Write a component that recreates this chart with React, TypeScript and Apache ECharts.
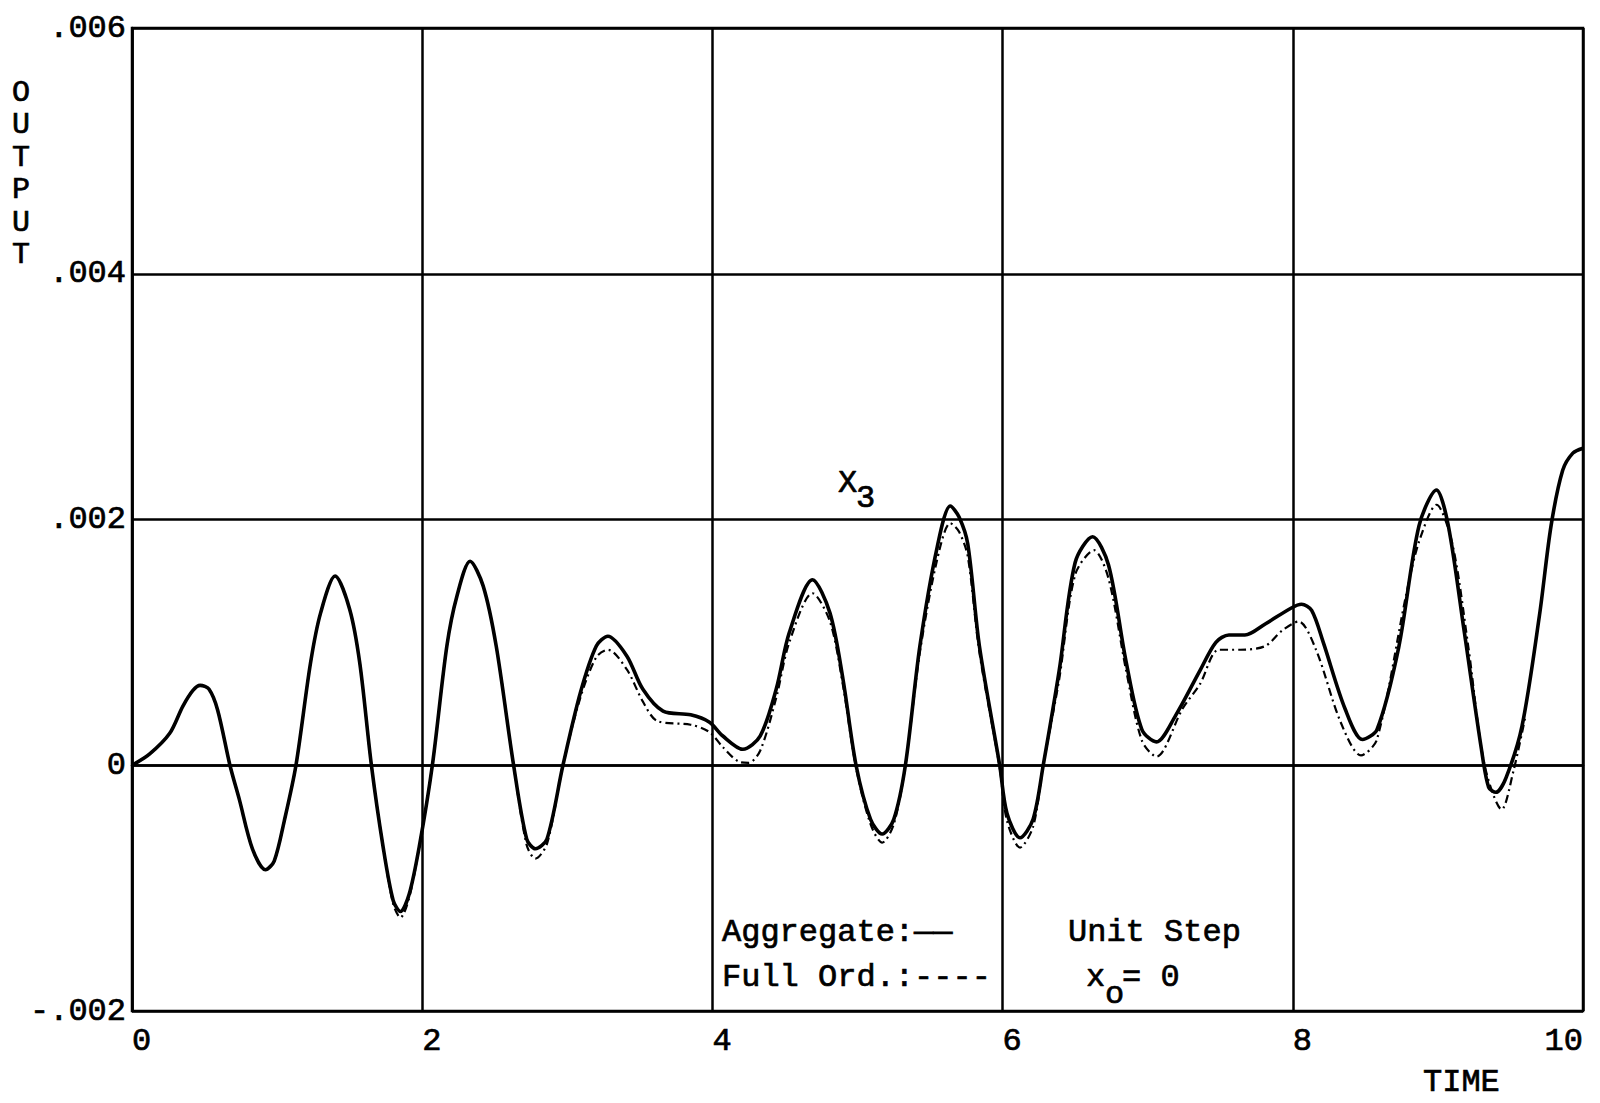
import React, { useEffect, useRef } from "react";
import * as echarts from "echarts";

// Time axis ticks and output tick labels (output in thousandths)
const xTickValues = [0, 2, 4, 6, 8, 10];
const yTickValues = [-2, 0, 2, 4, 6];
const yTickLabels = ["-.002", "0", ".002", ".004", ".006"];
const yAxisTitleLetters = ["O", "U", "T", "P", "U", "T"];

// Aggregate model response (solid)
const aggregateTime = [
  0, 0.12, 0.26, 0.35, 0.42, 0.47, 0.53, 0.59, 0.675, 0.74, 0.83, 0.92, 0.98, 1.05, 1.13,
  1.23, 1.3, 1.4, 1.5, 1.57, 1.65, 1.73, 1.8, 1.85, 1.91, 1.98, 2.07, 2.17, 2.24, 2.33,
  2.42, 2.51, 2.63, 2.72, 2.78, 2.86, 2.97, 3.09, 3.2, 3.28, 3.41, 3.52, 3.66, 3.85,
  3.98, 4.07, 4.21, 4.33, 4.44, 4.53, 4.69, 4.81, 4.9, 4.99, 5.09, 5.17, 5.25, 5.33,
  5.43, 5.55, 5.64, 5.7, 5.76, 5.84, 5.98, 6.03, 6.12, 6.21, 6.28, 6.39, 6.5, 6.62,
  6.73, 6.85, 6.96, 7.06, 7.19, 7.36, 7.47, 7.56, 7.67, 7.81, 7.99, 8.06, 8.13, 8.21,
  8.36, 8.48, 8.58, 8.73, 8.87, 8.99, 9.07, 9.18, 9.3, 9.35, 9.4, 9.47, 9.58, 9.7,
  9.78, 9.86, 9.93, 10.0,
];
const aggregateOutput = [
  0, 0.09, 0.26, 0.48, 0.61, 0.65, 0.62, 0.45, 0, -0.28, -0.68, -0.85, -0.78, -0.45, 0,
  0.83, 1.24, 1.54, 1.27, 0.83, 0, -0.66, -1.1, -1.19, -1.05, -0.66, 0, 0.97, 1.38, 1.66,
  1.46, 0.97, 0, -0.6, -0.68, -0.6, 0, 0.59, 0.97, 1.05, 0.89, 0.62, 0.44, 0.41,
  0.35, 0.24, 0.13, 0.24, 0.62, 1.08, 1.51, 1.24, 0.7, 0, -0.44, -0.56, -0.44, 0,
  0.97, 1.78, 2.11, 2.02, 1.8, 0.97, 0, -0.39, -0.59, -0.44, 0, 0.77, 1.65, 1.86,
  1.63, 0.85, 0.29, 0.19, 0.4, 0.77, 1.0, 1.06, 1.06, 1.15, 1.28, 1.31, 1.26, 1.0,
  0.46, 0.21, 0.29, 0.96, 1.95, 2.24, 1.96, 1.1, 0.13, -0.18, -0.22, -0.1, 0.32, 1.22,
  1.95, 2.4, 2.54, 2.58,
];

// Full order model response (dashed)
const fullOrderTime = [
  0, 0.12, 0.26, 0.35, 0.42, 0.47, 0.53, 0.59, 0.675, 0.74, 0.83, 0.92, 0.98, 1.05, 1.13,
  1.23, 1.3, 1.4, 1.5, 1.57, 1.65, 1.73, 1.8, 1.85, 1.91, 1.98, 2.07, 2.17, 2.24, 2.33,
  2.42, 2.51, 2.63, 2.72, 2.78, 2.86, 2.97, 3.09, 3.2, 3.28, 3.41, 3.52, 3.62, 3.85,
  3.98, 4.07, 4.18, 4.25, 4.33, 4.44, 4.53, 4.69, 4.81, 4.9, 4.99, 5.09, 5.17, 5.25,
  5.33, 5.43, 5.55, 5.64, 5.7, 5.76, 5.84, 5.98, 6.03, 6.12, 6.21, 6.28, 6.39, 6.5,
  6.63, 6.73, 6.85, 6.96, 7.06, 7.24, 7.36, 7.49, 7.64, 7.81, 7.93, 8.04, 8.16, 8.33,
  8.47, 8.58, 8.78, 8.87, 8.99, 9.1, 9.21, 9.32, 9.44, 9.52, 9.6,
];
const fullOrderOutput = [
  0, 0.09, 0.26, 0.48, 0.61, 0.65, 0.62, 0.45, 0, -0.28, -0.68, -0.85, -0.78, -0.45, 0,
  0.83, 1.24, 1.54, 1.27, 0.83, 0, -0.66, -1.13, -1.24, -1.08, -0.66, 0, 0.97, 1.38, 1.66,
  1.46, 0.97, 0, -0.65, -0.76, -0.64, 0, 0.55, 0.88, 0.94, 0.78, 0.52, 0.36, 0.33,
  0.27, 0.15, 0.03, 0.02, 0.12, 0.55, 1.0, 1.4, 1.17, 0.65, -0.02, -0.48, -0.63, -0.48,
  0, 0.92, 1.68, 1.97, 1.9, 1.7, 0.92, -0.02, -0.45, -0.67, -0.5, 0, 0.7, 1.55,
  1.75, 1.52, 0.78, 0.2, 0.07, 0.46, 0.66, 0.94, 0.94, 0.97, 1.1, 1.17, 0.94, 0.35,
  0.08, 0.21, 1.38, 1.82, 2.12, 1.8, 0.96, 0.01, -0.36, -0.05, 0.38,
];

const FONT = "'Liberation Mono', monospace";
const FS = 32;

export default function App() {
  const ref = useRef<HTMLDivElement>(null);

  useEffect(() => {
    if (!ref.current) return;
    const chart = echarts.init(ref.current, undefined, { renderer: "svg" });
    const aggData = aggregateTime.map((t, i) => [t, aggregateOutput[i]]);
    const fullData = fullOrderTime.map((t, i) => [t, fullOrderOutput[i]]);
    const gridLine = { color: "#000", width: 2.5 };

    const text = (x: number, y: number, s: string, extra: any = {}) => ({
      type: "text",
      x,
      y,
      style: {
        text: s,
        fill: "#000",
        stroke: "#000",
        lineWidth: 0.7,
        font: `${FS}px ${FONT}`,
        textAlign: "left",
        textVerticalAlign: "middle",
        ...extra,
      },
    });

    const titleLetters = yAxisTitleLetters.map((ch, i) =>
      text(21, 93 + i * 32.4, ch, { textAlign: "center", font: `30px ${FONT}` })
    );

    const labelCommon = {
      color: "#000",
      fontFamily: FONT,
      fontSize: FS,
      textBorderColor: "#000",
      textBorderWidth: 0.7,
    };

    chart.setOption({
      animation: false,
      backgroundColor: "#fff",
      grid: {
        left: 132,
        right: 17,
        top: 28,
        bottom: 92,
        show: true,
        borderColor: "#000",
        borderWidth: 2.5,
        containLabel: false,
        outerBoundsMode: "none",
      },
      xAxis: {
        type: "value",
        min: 0,
        max: 10,
        interval: 2,
        axisLine: { show: true, lineStyle: gridLine },
        axisTick: { show: false },
        splitLine: { show: true, lineStyle: gridLine },
        axisLabel: {
          ...labelCommon,
          margin: 14,
          align: "left",
          alignMaxLabel: "right",
          formatter: (v: number) => {
            const i = xTickValues.indexOf(Math.round(v));
            return i >= 0 ? String(xTickValues[i]) : "";
          },
        },
      },
      yAxis: {
        type: "value",
        min: -2,
        max: 6,
        interval: 2,
        axisLine: { show: true, lineStyle: gridLine },
        axisTick: { show: false },
        splitLine: { show: true, lineStyle: gridLine },
        axisLabel: {
          ...labelCommon,
          margin: 6,
          formatter: (v: number) => {
            const i = yTickValues.indexOf(Math.round(v));
            return i >= 0 ? yTickLabels[i] : "";
          },
        },
      },
      series: [
        {
          name: "Full Ord.",
          type: "line",
          data: fullData,
          showSymbol: false,
          smooth: 0.3,
          lineStyle: { color: "#000", width: 2.2, type: [8, 4, 2, 4] },
          z: 2,
        },
        {
          name: "Aggregate",
          type: "line",
          data: aggData,
          showSymbol: false,
          smooth: 0.3,
          lineStyle: { color: "#000", width: 3.6 },
          z: 3,
        },
      ],
      graphic: [
        ...titleLetters,
        text(1423, 1082, "TIME"),
        text(838, 483, "X"),
        text(856, 498, "3"),
        text(722, 932, "Aggregate:——"),
        text(722, 977, "Full Ord.:----"),
        text(1068, 932, "Unit Step"),
        text(1086, 977, "x"),
        text(1105, 994, "o"),
        text(1122, 977, "= 0"),
      ],
    });
    return () => chart.dispose();
  }, []);

  return (
    <div
      ref={ref}
      style={{ position: "absolute", left: 0, top: 0, width: 1600, height: 1103, background: "#fff" }}
    />
  );
}
